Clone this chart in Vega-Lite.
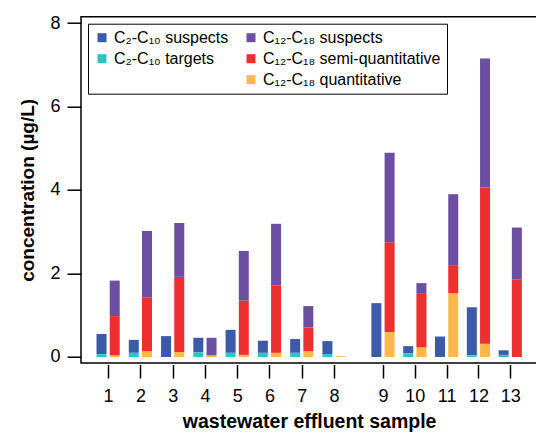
{
  "$schema": "https://vega.github.io/schema/vega-lite/v6.json",
  "width": 458,
  "height": 346.3,
  "autosize": {"type": "none"},
  "padding": {"left": 81, "top": 16.7, "right": 0, "bottom": 70},
  "config": {
    "font": "Liberation Sans",
    "view": {"stroke": "black", "strokeWidth": 1.5},
    "axis": {
      "grid": false,
      "labelColor": "black",
      "tickColor": "black",
      "titleColor": "black",
      "labelFont": "Liberation Sans",
      "titleFont": "Liberation Sans"
    },
    "legend": {
      "labelFont": "Liberation Sans",
      "labelFontSize": 16,
      "labelColor": "black",
      "labelLimit": 400,
      "symbolType": "square",
      "symbolSize": 81,
      "symbolStrokeWidth": 0,
      "symbolOpacity": 1,
      "strokeColor": "black",
      "padding": 6,
      "rowPadding": 5,
      "columnPadding": 14
    }
  },
  "datasets": {
    "conc": [
      {"sample": 1, "series": "C₂-C₁₀ suspects", "value": 0.485},
      {"sample": 1, "series": "C₂-C₁₀ targets", "value": 0.065},
      {"sample": 1, "series": "C₁₂-C₁₈ quantitative", "value": 0.04},
      {"sample": 1, "series": "C₁₂-C₁₈ semi-quantitative", "value": 0.94},
      {"sample": 1, "series": "C₁₂-C₁₈ suspects", "value": 0.85},
      {"sample": 2, "series": "C₂-C₁₀ suspects", "value": 0.31},
      {"sample": 2, "series": "C₂-C₁₀ targets", "value": 0.10},
      {"sample": 2, "series": "C₁₂-C₁₈ quantitative", "value": 0.14},
      {"sample": 2, "series": "C₁₂-C₁₈ semi-quantitative", "value": 1.29},
      {"sample": 2, "series": "C₁₂-C₁₈ suspects", "value": 1.59},
      {"sample": 3, "series": "C₂-C₁₀ suspects", "value": 0.50},
      {"sample": 3, "series": "C₂-C₁₀ targets", "value": 0.0},
      {"sample": 3, "series": "C₁₂-C₁₈ quantitative", "value": 0.12},
      {"sample": 3, "series": "C₁₂-C₁₈ semi-quantitative", "value": 1.80},
      {"sample": 3, "series": "C₁₂-C₁₈ suspects", "value": 1.29},
      {"sample": 4, "series": "C₂-C₁₀ suspects", "value": 0.35},
      {"sample": 4, "series": "C₂-C₁₀ targets", "value": 0.11},
      {"sample": 4, "series": "C₁₂-C₁₈ quantitative", "value": 0.04},
      {"sample": 4, "series": "C₁₂-C₁₈ semi-quantitative", "value": 0.0},
      {"sample": 4, "series": "C₁₂-C₁₈ suspects", "value": 0.42},
      {"sample": 5, "series": "C₂-C₁₀ suspects", "value": 0.55},
      {"sample": 5, "series": "C₂-C₁₀ targets", "value": 0.10},
      {"sample": 5, "series": "C₁₂-C₁₈ quantitative", "value": 0.05},
      {"sample": 5, "series": "C₁₂-C₁₈ semi-quantitative", "value": 1.30},
      {"sample": 5, "series": "C₁₂-C₁₈ suspects", "value": 1.19},
      {"sample": 6, "series": "C₂-C₁₀ suspects", "value": 0.29},
      {"sample": 6, "series": "C₂-C₁₀ targets", "value": 0.10},
      {"sample": 6, "series": "C₁₂-C₁₈ quantitative", "value": 0.10},
      {"sample": 6, "series": "C₁₂-C₁₈ semi-quantitative", "value": 1.61},
      {"sample": 6, "series": "C₁₂-C₁₈ suspects", "value": 1.48},
      {"sample": 7, "series": "C₂-C₁₀ suspects", "value": 0.33},
      {"sample": 7, "series": "C₂-C₁₀ targets", "value": 0.10},
      {"sample": 7, "series": "C₁₂-C₁₈ quantitative", "value": 0.14},
      {"sample": 7, "series": "C₁₂-C₁₈ semi-quantitative", "value": 0.57},
      {"sample": 7, "series": "C₁₂-C₁₈ suspects", "value": 0.51},
      {"sample": 8, "series": "C₂-C₁₀ suspects", "value": 0.31},
      {"sample": 8, "series": "C₂-C₁₀ targets", "value": 0.07},
      {"sample": 8, "series": "C₁₂-C₁₈ quantitative", "value": 0.02},
      {"sample": 8, "series": "C₁₂-C₁₈ semi-quantitative", "value": 0.0},
      {"sample": 8, "series": "C₁₂-C₁₈ suspects", "value": 0.0},
      {"sample": 9, "series": "C₂-C₁₀ suspects", "value": 1.29},
      {"sample": 9, "series": "C₂-C₁₀ targets", "value": 0.0},
      {"sample": 9, "series": "C₁₂-C₁₈ quantitative", "value": 0.60},
      {"sample": 9, "series": "C₁₂-C₁₈ semi-quantitative", "value": 2.15},
      {"sample": 9, "series": "C₁₂-C₁₈ suspects", "value": 2.14},
      {"sample": 10, "series": "C₂-C₁₀ suspects", "value": 0.17},
      {"sample": 10, "series": "C₂-C₁₀ targets", "value": 0.09},
      {"sample": 10, "series": "C₁₂-C₁₈ quantitative", "value": 0.23},
      {"sample": 10, "series": "C₁₂-C₁₈ semi-quantitative", "value": 1.30},
      {"sample": 10, "series": "C₁₂-C₁₈ suspects", "value": 0.24},
      {"sample": 11, "series": "C₂-C₁₀ suspects", "value": 0.49},
      {"sample": 11, "series": "C₂-C₁₀ targets", "value": 0.0},
      {"sample": 11, "series": "C₁₂-C₁₈ quantitative", "value": 1.53},
      {"sample": 11, "series": "C₁₂-C₁₈ semi-quantitative", "value": 0.67},
      {"sample": 11, "series": "C₁₂-C₁₈ suspects", "value": 1.70},
      {"sample": 12, "series": "C₂-C₁₀ suspects", "value": 1.15},
      {"sample": 12, "series": "C₂-C₁₀ targets", "value": 0.04},
      {"sample": 12, "series": "C₁₂-C₁₈ quantitative", "value": 0.32},
      {"sample": 12, "series": "C₁₂-C₁₈ semi-quantitative", "value": 3.74},
      {"sample": 12, "series": "C₁₂-C₁₈ suspects", "value": 3.09},
      {"sample": 13, "series": "C₂-C₁₀ suspects", "value": 0.11},
      {"sample": 13, "series": "C₂-C₁₀ targets", "value": 0.05},
      {"sample": 13, "series": "C₁₂-C₁₈ quantitative", "value": 0.0},
      {"sample": 13, "series": "C₁₂-C₁₈ semi-quantitative", "value": 1.86},
      {"sample": 13, "series": "C₁₂-C₁₈ suspects", "value": 1.24}
    ]
  },
  "data": {"name": "conc"},
  "layer": [
    {
      "mark": {"type": "bar", "size": 10, "opacity": 0},
      "encoding": {
        "x": {
          "field": "sample",
          "type": "quantitative",
          "scale": {"domain": [1, 8, 9, 13], "range": [22.3, 253, 302, 434], "nice": false, "zero": false},
          "axis": {
            "values": [1, 2, 3, 4, 5, 6, 7, 8, 9, 10, 11, 12, 13],
            "format": "d",
            "domain": false,
            "offset": 1.5,
            "tickSize": 13.5,
            "tickWidth": 1.5,
            "labelFontSize": 18,
            "labelPadding": 9,
            "title": "wastewater effluent sample",
            "titleFontSize": 19.5,
            "titleFontWeight": "bold",
            "titlePadding": 7
          }
        },
        "y": {
          "field": "value",
          "type": "quantitative",
          "aggregate": "sum",
          "scale": {"domain": [-0.144, 8.151], "nice": false, "zero": false},
          "axis": {
            "values": [0, 2, 4, 6, 8],
            "domain": false,
            "tickSize": 14,
            "tickWidth": 1.5,
            "labelFontSize": 18,
            "labelPadding": 7,
            "title": "concentration (µg/L)",
            "titleFontSize": 19,
            "titleFontWeight": "bold",
            "titlePadding": 12
          }
        }
      }
    },
    {
      "transform": [{"filter": {"field": "series", "oneOf": ["C₂-C₁₀ suspects", "C₂-C₁₀ targets"]}}],
      "mark": {"type": "bar", "size": 10},
      "encoding": {
        "x": {
          "field": "sample",
          "type": "quantitative",
          "scale": {"domain": [1, 8, 9, 13], "range": [15.7, 246.4, 295.4, 427.4], "nice": false, "zero": false},
          "axis": null
        },
        "y": {
          "field": "value",
          "type": "quantitative",
          "stack": "zero",
          "scale": {"domain": [-0.144, 8.151], "nice": false, "zero": false}
        },
        "color": {
          "field": "series",
          "type": "nominal",
          "scale": {
            "domain": ["C₂-C₁₀ suspects", "C₂-C₁₀ targets", " ", "C₁₂-C₁₈ suspects", "C₁₂-C₁₈ semi-quantitative", "C₁₂-C₁₈ quantitative"],
            "range": ["#3b5ba9", "#2ec4c6", "rgba(0,0,0,0)", "#6d4fa1", "#ee2f2f", "#fdb84c"]
          },
          "legend": {"title": null, "orient": "none", "legendX": 7, "legendY": 7, "columns": 2}
        },
        "order": {"field": "series", "sort": "descending"}
      }
    },
    {
      "transform": [{"filter": {"field": "series", "oneOf": ["C₁₂-C₁₈ quantitative", "C₁₂-C₁₈ semi-quantitative", "C₁₂-C₁₈ suspects"]}}],
      "mark": {"type": "bar", "size": 10},
      "encoding": {
        "x": {
          "field": "sample",
          "type": "quantitative",
          "scale": {"domain": [1, 8, 9, 13], "range": [28.9, 259.6, 308.6, 440.6], "nice": false, "zero": false},
          "axis": null
        },
        "y": {
          "field": "value",
          "type": "quantitative",
          "stack": "zero",
          "scale": {"domain": [-0.144, 8.151], "nice": false, "zero": false}
        },
        "color": {
          "field": "series",
          "type": "nominal",
          "scale": {
            "domain": ["C₂-C₁₀ suspects", "C₂-C₁₀ targets", " ", "C₁₂-C₁₈ suspects", "C₁₂-C₁₈ semi-quantitative", "C₁₂-C₁₈ quantitative"],
            "range": ["#3b5ba9", "#2ec4c6", "rgba(0,0,0,0)", "#6d4fa1", "#ee2f2f", "#fdb84c"]
          },
          "legend": {"title": null, "orient": "none", "legendX": 7, "legendY": 7, "columns": 2}
        },
        "order": {"field": "series", "sort": "ascending"}
      }
    }
  ],
  "resolve": {"scale": {"x": "independent"}}
}
